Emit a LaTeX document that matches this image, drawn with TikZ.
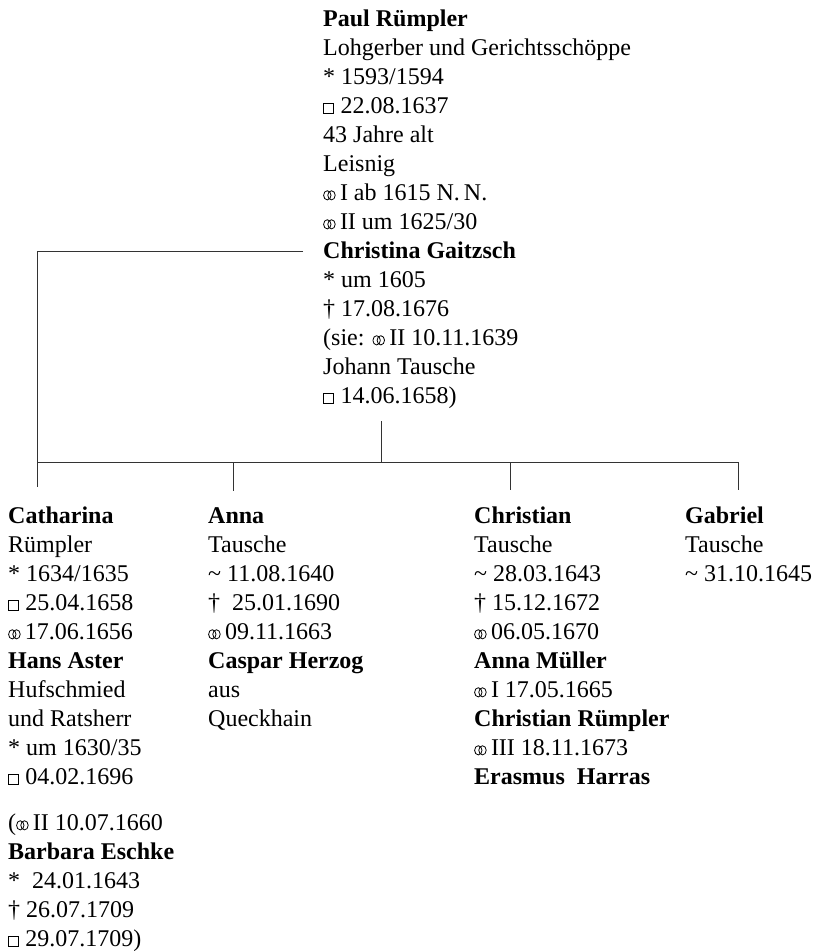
\documentclass[tikz,border=0pt]{standalone}
\usepackage{fontspec}
\setmainfont{Liberation Serif}
% genealogical signs: wedding rings, burial box, baptism tilde
\newcommand\marr{\tikz[baseline=0pt]{\draw[line width=0.8pt]
    (4.1pt,4.9pt) ellipse [x radius=3.7pt,y radius=4.6pt]
    (8.3pt,4.9pt) ellipse [x radius=3.7pt,y radius=4.6pt];}\hspace{4.4pt}}
\newcommand\burial{\tikz[baseline=0pt]{\draw[line width=0.6pt]
    (0.3pt,0.3pt) rectangle (10pt,10pt);}\hspace{7pt}}
\newcommand\bapt{\textasciitilde}
\begin{document}
\begin{tikzpicture}[x=1pt,y=1pt,
  person/.style={anchor=north west,inner sep=0pt,align=left,
    font=\fontsize{24}{29}\selectfont},
  link/.style={line width=0.9pt,draw=black!80}]
\useasboundingbox (0,0) rectangle (817,-951);

% parents
\node[person] (parents) at (323,-5.7) {\strut\textbf{Paul Rümpler}\\
  Lohgerber und Gerichtsschöppe\\
  * 1593/1594\\
  \burial 22.08.1637\\
  43 Jahre alt\\
  Leisnig\\
  \marr I ab 1615 N.\,N.\\
  \marr II um 1625/30\\
  \textbf{Christina Gaitzsch}\\
  * um 1605\\
  † 17.08.1676\\
  (sie: \marr II 10.11.1639\\
  Johann Tausche\\
  \burial 14.06.1658)};

% children
\node[person] (catharina) at (8,-502.7) {\strut\textbf{Catharina}\\
  Rümpler\\
  * 1634/1635\\
  \burial 25.04.1658\\
  \marr 17.06.1656\\
  \textbf{Hans Aster}\\
  Hufschmied\\
  und Ratsherr\\
  * um 1630/35\\
  \burial 04.02.1696\\[17pt]
  (\marr II 10.07.1660\\
  \textbf{Barbara Eschke}\\
  *~ 24.01.1643\\
  † 26.07.1709\\
  \burial 29.07.1709)};

\node[person] (anna) at (208,-502.7) {\strut\textbf{Anna}\\
  Tausche\\
  \bapt\ 11.08.1640\\
  †~ 25.01.1690\\
  \marr 09.11.1663\\
  \textbf{Caspar Herzog}\\
  aus\\
  Queckhain};

\node[person] (christian) at (474,-502.7) {\strut\textbf{Christian}\\
  Tausche\\
  \bapt\ 28.03.1643\\
  † 15.12.1672\\
  \marr 06.05.1670\\
  \textbf{Anna Müller}\\
  \marr I 17.05.1665\\
  \textbf{Christian Rümpler}\\
  \marr III 18.11.1673\\
  \textbf{Erasmus~ Harras}};

\node[person] (gabriel) at (685,-502.7) {\strut\textbf{Gabriel}\\
  Tausche\\
  \bapt\ 31.10.1645};

% connector points
\coordinate (wed)    at (303,-251);
\coordinate (corner) at (37,-251);
\coordinate (stem)   at (381,-421);
\coordinate (barL)   at (37,-462);
\coordinate (barR)   at (738,-462);
\coordinate (barS)   at (381,-462);
\coordinate (barA)   at (233.5,-462);
\coordinate (barC)   at (510.5,-462);
\coordinate (dropK)  at (37,-487);
\coordinate (dropA)  at (233.5,-491);
\coordinate (dropC)  at (510.5,-490);
\coordinate (dropG)  at (738,-490);

% lines of descent
\draw[link] (wed) -- (corner) -- (dropK);
\draw[link] (stem) -- (barS);
\draw[link] (barL) -- (barR);
\draw[link] (barA) -- (dropA);
\draw[link] (barC) -- (dropC);
\draw[link] (barR) -- (dropG);
\end{tikzpicture}
\end{document}
